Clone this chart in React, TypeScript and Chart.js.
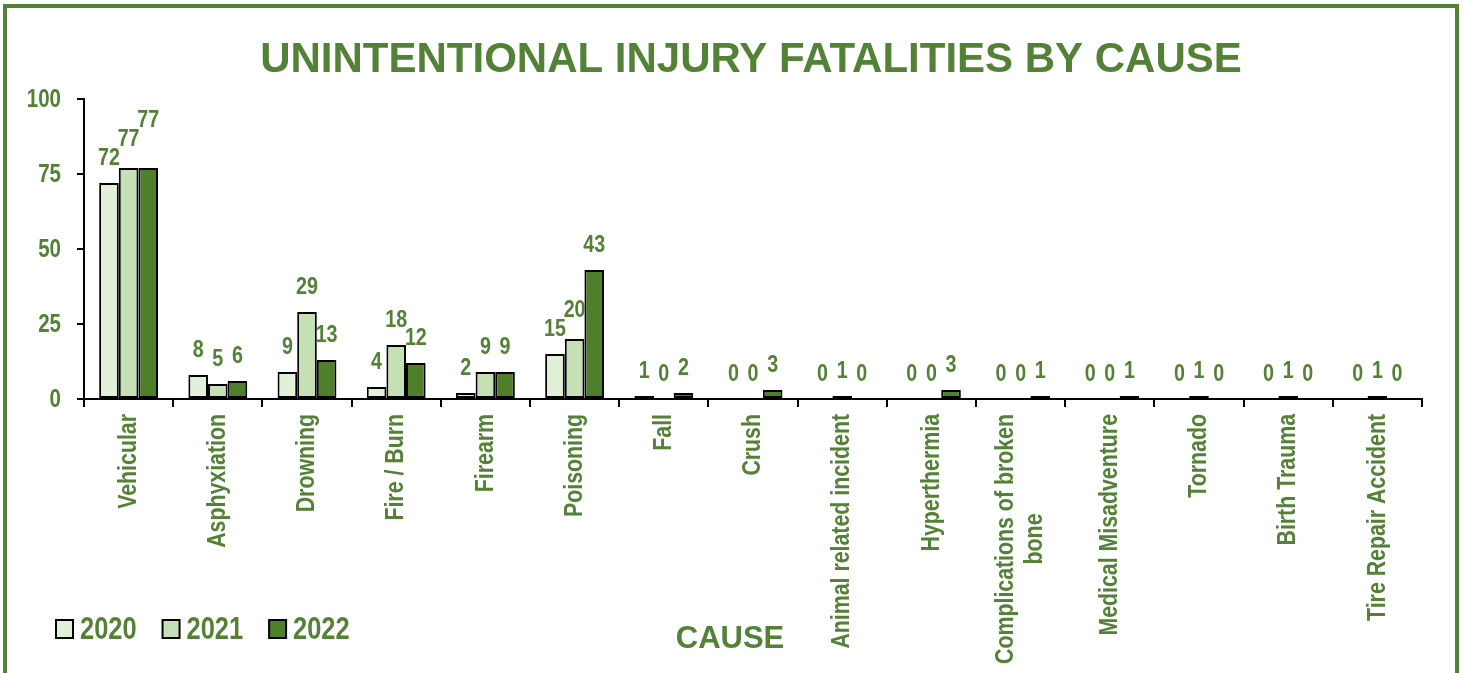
import React, { useEffect, useRef } from "react";
import { Chart, registerables } from "chart.js";

Chart.register(...registerables);

const title = "UNINTENTIONAL INJURY FATALITIES BY CAUSE";
const xTitle = "CAUSE";
const categories: (string | string[])[] = [
  "Vehicular",
  "Asphyxiation",
  "Drowning",
  "Fire / Burn",
  "Firearm",
  "Poisoning",
  "Fall",
  "Crush",
  "Animal related incident",
  "Hyperthermia",
  ["Complications of broken", "bone"],
  "Medical Misadventure",
  "Tornado",
  "Birth Trauma",
  "Tire Repair Accident",
];
const years = ["2020", "2021", "2022"];
const values2020 = [72, 8, 9, 4, 2, 15, 1, 0, 0, 0, 0, 0, 0, 0, 0];
const values2021 = [77, 5, 29, 18, 9, 20, 0, 0, 1, 0, 0, 0, 1, 1, 1];
const values2022 = [77, 6, 13, 12, 9, 43, 2, 3, 0, 3, 1, 1, 0, 0, 0];
const yTicks = [0, 25, 50, 75, 100];
const barColors = ["#E2F0D9", "#C5E0B4", "#4F7F2A"];

const GREEN = "#538135";
const NARROW = '"Liberation Sans Narrow", "Arial Narrow"';
const WIDE = '"Liberation Sans", Arial, sans-serif';

let narrowOk: boolean | null = null;
function checkNarrow(ctx: CanvasRenderingContext2D) {
  if (narrowOk !== null) return narrowOk;
  ctx.save();
  ctx.font = `bold 40px ${NARROW}, monospace`;
  const a = ctx.measureText("Vehicular Accident").width;
  ctx.font = `bold 40px monospace`;
  const b = ctx.measureText("Vehicular Accident").width;
  ctx.restore();
  narrowOk = Math.abs(a - b) > 1;
  return narrowOk;
}

function narrowFont(ctx: CanvasRenderingContext2D, size: number) {
  const ok = checkNarrow(ctx);
  return ok
    ? { font: `bold ${size}px ${NARROW}, sans-serif`, sx: 1 }
    : { font: `bold ${size}px ${WIDE}`, sx: 0.82 };
}

function measureN(ctx: CanvasRenderingContext2D, text: string, size: number) {
  const f = narrowFont(ctx, size);
  ctx.save();
  ctx.font = f.font;
  const w = ctx.measureText(text).width * f.sx;
  ctx.restore();
  return w;
}

function drawN(
  ctx: CanvasRenderingContext2D,
  text: string,
  x: number,
  y: number,
  size: number,
  align: CanvasTextAlign,
  baseline: CanvasTextBaseline,
  rotate = 0
) {
  const f = narrowFont(ctx, size);
  ctx.save();
  ctx.translate(x, y);
  if (rotate) ctx.rotate(rotate);
  ctx.scale(f.sx, 1);
  ctx.font = f.font;
  ctx.fillStyle = GREEN;
  ctx.textAlign = align;
  ctx.textBaseline = baseline;
  ctx.fillText(text, 0, 0);
  ctx.restore();
}

const decorPlugin = {
  id: "decor",
  afterDraw(chart: any) {
    const ctx: CanvasRenderingContext2D = chart.ctx;
    const xs = chart.scales.x;
    const ys = chart.scales.y;

    // Title
    ctx.save();
    ctx.font = `bold 42px ${WIDE}`;
    ctx.fillStyle = GREEN;
    ctx.textAlign = "center";
    ctx.textBaseline = "alphabetic";
    ctx.fillText(title, 751, 72);
    // axis title
    ctx.font = `bold 31px ${WIDE}`;
    ctx.fillText(xTitle, 730, 648);
    ctx.restore();

    // Y tick labels
    yTicks.forEach((t) => {
      const y = ys.getPixelForValue(t);
      drawN(ctx, String(t), 61, y + 1, 25, "right", "middle");
    });

    // X category labels (rotated)
    const top = xs.bottom - xs.height + 15;
    categories.forEach((c, i) => {
      const lines = Array.isArray(c) ? c : [c];
      const cx = xs.getPixelForValue(i);
      const lh = 29;
      const widths = lines.map((l) => measureN(ctx, l, 26));
      const maxW = Math.max(...widths);
      lines.forEach((l, k) => {
        const x = cx + (k - (lines.length - 1) / 2) * lh;
        const y = top + (maxW - widths[k]) / 2;
        drawN(ctx, l, x, y, 26, "right", "middle", -Math.PI / 2);
      });
    });

    // Data labels
    for (let j = 0; j < categories.length; j++) {
      const placed: { x1: number; x2: number; y1: number; y2: number }[] = [];
      chart.data.datasets.forEach((ds: any, i: number) => {
        const el = chart.getDatasetMeta(i).data[j];
        const txt = String(ds.data[j]);
        const w = measureN(ctx, txt, 24) + 4;
        const h = 17;
        let cy = el.y - 25;
        const box = { x1: el.x - w / 2, x2: el.x + w / 2, y1: cy - h / 2, y2: cy + h / 2 };
        let moved = true;
        let guard = 0;
        while (moved && guard++ < 10) {
          moved = false;
          for (const p of placed) {
            if (box.x1 < p.x2 && box.x2 > p.x1 && box.y1 < p.y2 && box.y2 > p.y1) {
              const dy = box.y2 - (p.y1 - 2);
              cy -= dy;
              box.y1 -= dy;
              box.y2 -= dy;
              moved = true;
            }
          }
        }
        placed.push(box);
        drawN(ctx, txt, el.x, cy, 24, "center", "middle");
      });
    }

    // Legend
    let lx = 56;
    const ly = 620;
    chart.data.datasets.forEach((ds: any) => {
      ctx.save();
      ctx.fillStyle = ds.backgroundColor;
      ctx.fillRect(lx, ly, 17, 18);
      ctx.strokeStyle = "#000";
      ctx.lineWidth = 2;
      ctx.strokeRect(lx, ly, 17, 18);
      ctx.restore();
      drawN(ctx, ds.label, lx + 24, 639, 31, "left", "alphabetic");
      lx += 24 + measureN(ctx, ds.label, 31) + 26;
    });
  },
};

export default function App() {
  const ref = useRef<HTMLCanvasElement | null>(null);
  useEffect(() => {
    if (!ref.current) return;
    const series = [values2020, values2021, values2022];
    const chart = new Chart(ref.current, {
      type: "bar",
      data: {
        labels: categories.map((c) => (Array.isArray(c) ? c.join(" ") : c)),
        datasets: years.map((y, i) => ({
          label: y,
          data: series[i],
          backgroundColor: barColors[i],
          borderColor: "#000000",
          borderWidth: 2,
          borderSkipped: false,
          categoryPercentage: 0.66,
          barPercentage: 1,
        })),
      },
      options: {
        responsive: false,
        animation: false,
        devicePixelRatio: 1,
        layout: { padding: { top: 99, left: 0, right: 43, bottom: 0 } },
        plugins: {
          legend: { display: false },
          title: { display: false },
          tooltip: { enabled: false },
        },
        scales: {
          x: {
            offset: true,
            grid: {
              offset: true,
              drawOnChartArea: false,
              drawTicks: true,
              tickLength: 8,
              color: "#000",
              lineWidth: 2,
            },
            border: { display: true, color: "#000", width: 2 },
            ticks: { display: false },
            afterFit: (s: any) => {
              s.height = 274;
            },
          },
          y: {
            min: 0,
            max: 100,
            ticks: { stepSize: 25, display: false },
            grid: {
              drawOnChartArea: false,
              drawTicks: true,
              tickLength: 7,
              color: "#000",
              lineWidth: 2,
            },
            border: { display: true, color: "#000", width: 2 },
            afterFit: (s: any) => {
              s.width = 84;
            },
          },
        },
      } as any,
      plugins: [decorPlugin],
    });
    return () => chart.destroy();
  }, []);

  return (
    <div style={{ position: "fixed", left: 0, top: 0, width: 1465, height: 673, overflow: "hidden", background: "#fff" }}>
      <canvas ref={ref} width={1465} height={673} style={{ position: "absolute", left: 0, top: 0 }} />
      <div
        style={{
          position: "absolute",
          left: 3,
          top: 4,
          width: 1456,
          height: 720,
          boxSizing: "border-box",
          border: `4px solid ${GREEN}`,
          pointerEvents: "none",
        }}
      />
    </div>
  );
}
